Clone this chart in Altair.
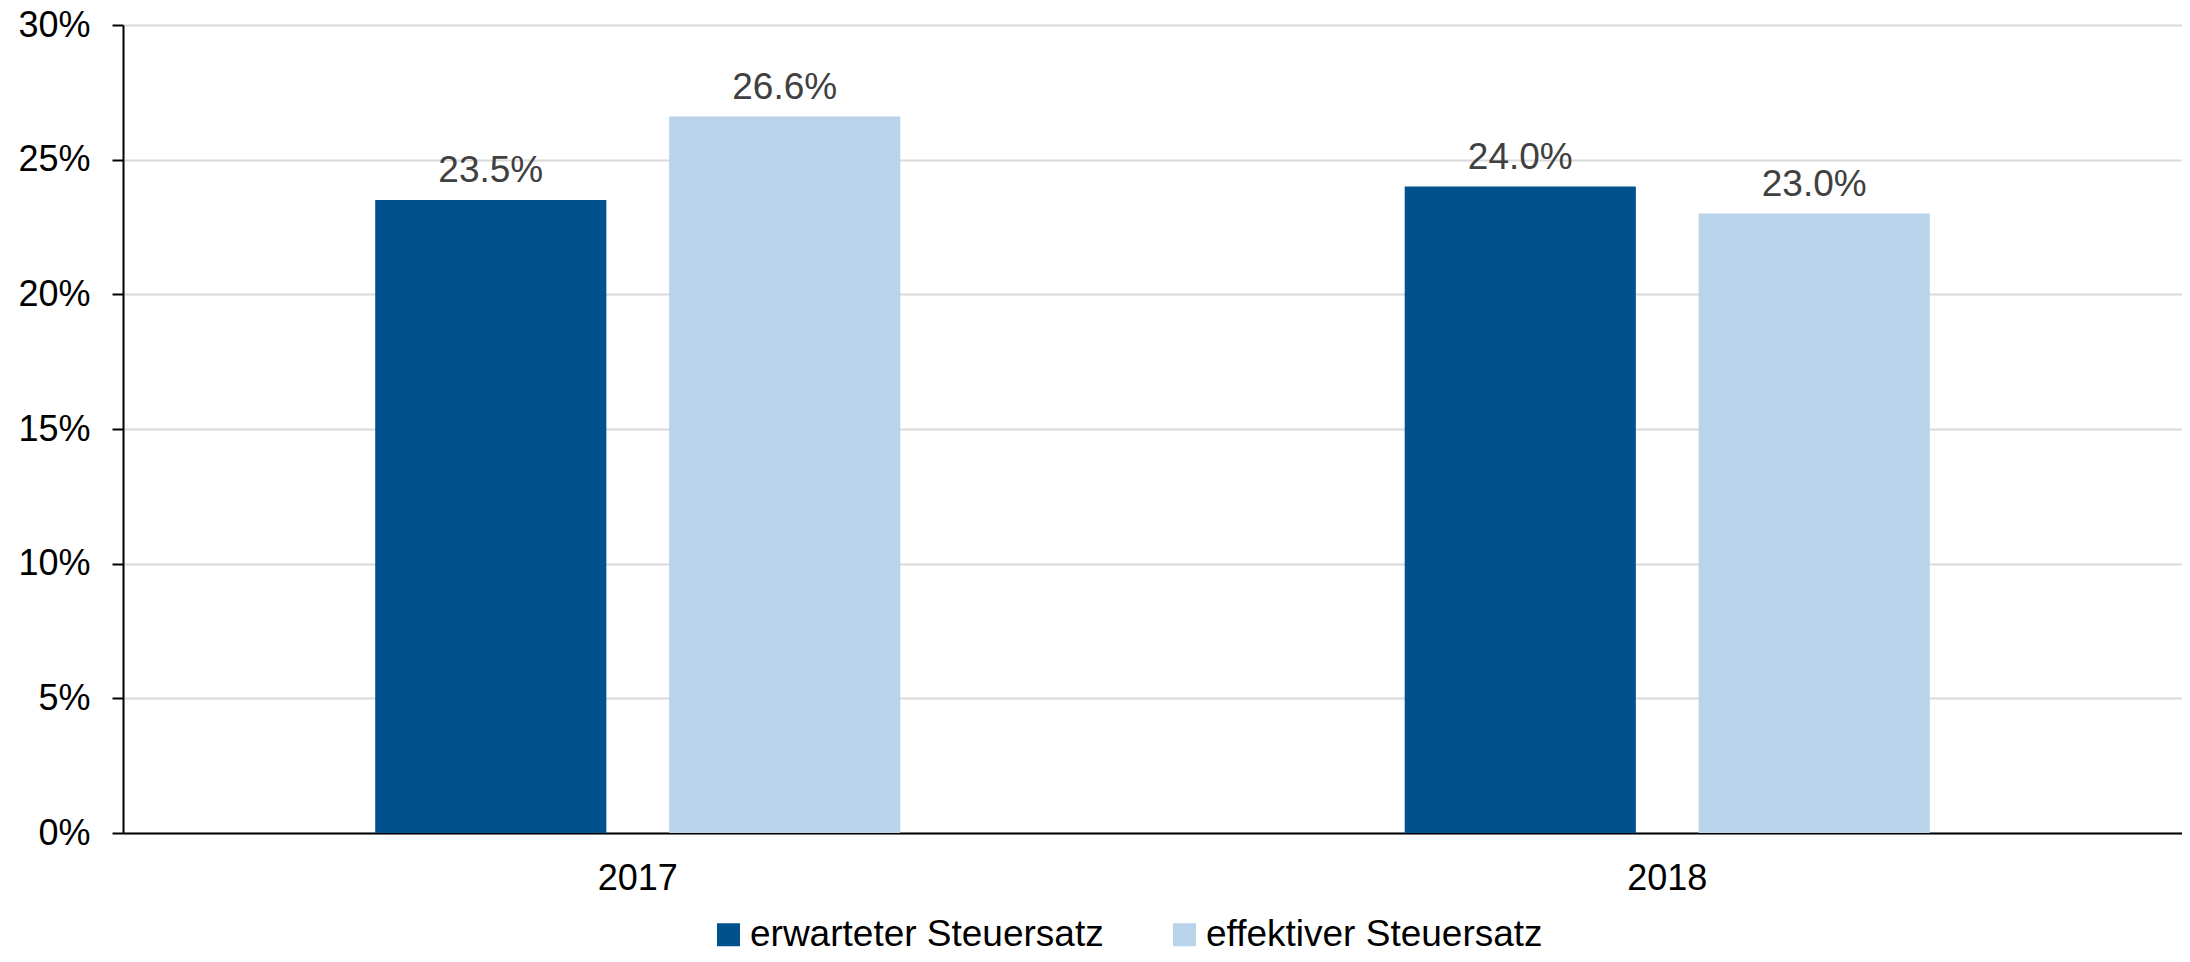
import altair as alt
import pandas as pd

years = ["2017", "2017", "2018", "2018"]
series = ["erwarteter Steuersatz", "effektiver Steuersatz",
          "erwarteter Steuersatz", "effektiver Steuersatz"]
values = [0.235, 0.266, 0.240, 0.230]

series_order = ["erwarteter Steuersatz", "effektiver Steuersatz"]
colors = ["#00518E", "#B9D3EB"]
y_ticks = [0, 0.05, 0.10, 0.15, 0.20, 0.25, 0.30]

df = pd.DataFrame({"year": years, "series": series, "value": values})

FONT = "Liberation Sans"

x_enc = alt.X("year:N", title=None,
              scale=alt.Scale(paddingInner=0, paddingOuter=0),
              axis=alt.Axis(labelFontSize=36, labelColor="#000000", labelFont=FONT,
                            labelPadding=28, ticks=False, domainColor="#000000",
                            domainWidth=2, labelAngle=0, grid=False))
xoff = alt.XOffset("series:N", sort=series_order,
                   scale=alt.Scale(paddingInner=0.2136, paddingOuter=0.858))
y_enc = alt.Y("value:Q", title=None,
              scale=alt.Scale(domain=[0, 0.30], nice=False),
              axis=alt.Axis(values=y_ticks, format=".0%", labelFontSize=36,
                            labelColor="#000000", labelFont=FONT, labelPadding=22,
                            tickSize=11, tickColor="#000000", tickWidth=2,
                            domainColor="#000000", domainWidth=2,
                            gridColor="#D9D9D9", gridWidth=2,
                            minExtent=107, maxExtent=107))

bars = alt.Chart(df).mark_bar().encode(
    x=x_enc,
    xOffset=xoff,
    y=y_enc,
    color=alt.Color("series:N", sort=series_order,
                    scale=alt.Scale(domain=series_order, range=colors),
                    legend=alt.Legend(title=None, orient="none", direction="horizontal",
                                      legendX=587, legendY=891,
                                      symbolType="square", symbolSize=529,
                                      symbolStrokeWidth=0, labelFontSize=37,
                                      labelFont=FONT, labelColor="#000000",
                                      labelOffset=3, columnPadding=62,
                                      labelLimit=600)),
)

labels = alt.Chart(df).mark_text(
    dy=-18, baseline="alphabetic", fontSize=37, font=FONT, color="#404040"
).encode(
    x=alt.X("year:N"),
    xOffset=alt.XOffset("series:N", sort=series_order),
    y=alt.Y("value:Q"),
    text=alt.Text("value:Q", format=".1%"),
)

chart = alt.layer(bars, labels).properties(
    width=2059, height=808,
    autosize=alt.AutoSizeParams(type="none"),
    padding={"left": 115, "top": 17, "right": 0, "bottom": 119},
).configure_view(stroke=None).configure(background="white")

chart.save("out.html", embed_options={"renderer": "svg", "actions": False})
